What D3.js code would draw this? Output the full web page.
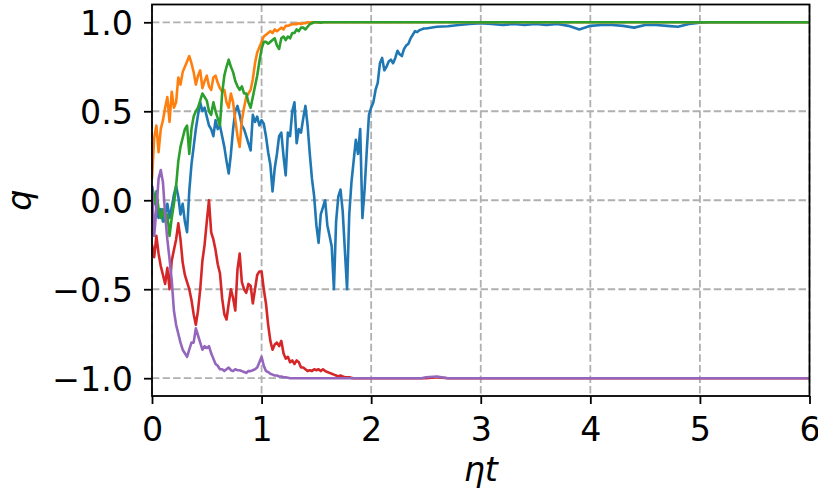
<!DOCTYPE html>
<html>
<head>
<meta charset="utf-8">
<script src="https://cdn.jsdelivr.net/npm/d3@7"></script>
<style>
  body { margin: 0; background: #fff; }
  svg { display: block; }
  text { font-family: "DejaVu Sans", sans-serif; }
</style>
</head>
<body>
<svg id="chart" width="818" height="490"></svg>
<script>
// Sample times: fine steps of 0.02 up to ηt = 2.5, then steps of 0.1 up to 6
const fineTime = d3.range(0, 126).map(i => +(i * 0.02).toFixed(2));
const coarseTime = d3.range(26, 61).map(i => +(i * 0.1).toFixed(1));
const time = fineTime.concat(coarseTime);

// q(ηt) for five runs
const qBlue = [
  0.08, 0.02, -0.04, -0.10, -0.05, -0.12, -0.08, -0.02, -0.10, -0.04,
  0.03, 0.08, 0.02, -0.08, -0.02, -0.12, -0.18, 0.05, 0.20, 0.30,
  0.40, 0.48, 0.55, 0.50, 0.52, 0.47, 0.42, 0.40, 0.36, 0.45,
  0.40, 0.42, 0.36, 0.30, 0.22, 0.15, 0.26, 0.40, 0.50, 0.53,
  0.48, 0.42, 0.40, 0.36, 0.32, 0.28, 0.48, 0.44, 0.47, 0.42,
  0.45, 0.43, 0.36, 0.27, 0.20, 0.05, 0.18, 0.26, 0.36, 0.38,
  0.25, 0.14, 0.38, 0.36, 0.50, 0.55, 0.32, 0.40, 0.38, 0.46,
  0.53, 0.42, 0.26, 0.12, 0.02, -0.14, -0.24, -0.08, -0.04, 0.00,
  -0.14, -0.20, -0.26, -0.50, -0.12, 0.02, 0.06, -0.06, -0.28, -0.50,
  -0.08, 0.10, 0.22, 0.34, 0.26, 0.40, -0.10, 0.06, 0.28, 0.48,
  0.52, 0.55, 0.62, 0.66, 0.77, 0.80, 0.73, 0.75, 0.78, 0.79,
  0.77, 0.80, 0.84, 0.82, 0.81, 0.85, 0.87, 0.88, 0.91, 0.93,
  0.95, 0.945, 0.955, 0.96, 0.965, 0.965,
  0.975, 0.978, 0.985, 0.99, 0.995,
  0.99, 0.985, 0.99, 0.985, 0.99, 0.985, 0.99, 0.98, 0.96, 0.98,
  0.985, 0.985, 0.98, 0.97, 0.985, 0.985, 0.98, 0.975, 0.99, 0.998,
  1, 1, 1, 1, 1, 1, 1, 1, 1, 1
];

const qOrange = [
  0.12, 0.35, 0.42, 0.27, 0.40, 0.45, 0.52, 0.58, 0.44, 0.61,
  0.52, 0.55, 0.69, 0.65, 0.72, 0.75, 0.78, 0.81, 0.77, 0.72,
  0.65, 0.70, 0.73, 0.63, 0.67, 0.70, 0.64, 0.62, 0.69, 0.70,
  0.66, 0.63, 0.61, 0.62, 0.55, 0.52, 0.60, 0.55, 0.45, 0.36,
  0.30, 0.45, 0.52, 0.58, 0.60, 0.62, 0.68, 0.77, 0.83, 0.86,
  0.89, 0.92, 0.93, 0.94, 0.95, 0.94, 0.96, 0.95, 0.96, 0.97,
  0.96, 0.98, 0.98, 0.985, 0.99, 0.99, 0.99, 0.995, 0.99, 0.995,
  0.995, 1, 0.998, 1, 1, 1, 0.998, 1, 1, 1,
  1, 1, 1, 1, 1, 1, 1, 1, 1, 1,
  1, 1, 1, 1, 1, 1, 1, 1, 1, 1,
  1, 1, 1, 1, 1, 1, 1, 1, 1, 1,
  1, 1, 1, 1, 1, 1, 1, 1, 1, 1,
  1, 1, 1, 1, 1, 1,
  1, 1, 1, 1, 1,
  1, 1, 1, 1, 1, 1, 1, 1, 1, 1,
  1, 1, 1, 1, 1, 1, 1, 1, 1, 1,
  1, 1, 1, 1, 1, 1, 1, 1, 1, 1
];

const qGreen = [
  0.05, -0.02, 0.05, -0.05, -0.10, -0.05, -0.12, -0.08, -0.20, -0.10,
  -0.02, 0.08, 0.22, 0.30, 0.35, 0.40, 0.42, 0.26, 0.40, 0.47,
  0.50, 0.52, 0.56, 0.60, 0.58, 0.56, 0.50, 0.48, 0.55, 0.50,
  0.46, 0.42, 0.60, 0.70, 0.75, 0.79, 0.75, 0.72, 0.67, 0.64,
  0.62, 0.64, 0.60, 0.60, 0.55, 0.52, 0.58, 0.64, 0.70, 0.78,
  0.85, 0.89, 0.89, 0.88, 0.89, 0.90, 0.91, 0.87, 0.85, 0.91,
  0.92, 0.90, 0.92, 0.91, 0.94, 0.94, 0.96, 0.95, 0.97, 0.97,
  0.96, 0.975, 0.99, 0.995, 1, 1, 1, 0.998, 1, 1,
  1, 1, 1, 1, 1, 1, 1, 1, 1, 1,
  1, 1, 1, 1, 1, 1, 1, 1, 1, 1,
  1, 1, 1, 1, 1, 1, 1, 1, 1, 1,
  1, 1, 1, 1, 1, 1, 1, 1, 1, 1,
  1, 1, 1, 1, 1, 1,
  1, 1, 1, 1, 1,
  1, 1, 1, 1, 1, 1, 1, 1, 1, 1,
  1, 1, 1, 1, 1, 1, 1, 1, 1, 1,
  1, 1, 1, 1, 1, 1, 1, 1, 1, 1
];

const qRed = [
  -0.25, -0.32, -0.20, -0.30, -0.37, -0.42, -0.47, -0.38, -0.50, -0.34,
  -0.28, -0.22, -0.13, -0.22, -0.35, -0.42, -0.46, -0.50, -0.56, -0.64,
  -0.70, -0.62, -0.50, -0.34, -0.25, -0.12, 0.00, -0.18, -0.22, -0.28,
  -0.36, -0.41, -0.55, -0.64, -0.67, -0.58, -0.50, -0.55, -0.62, -0.39,
  -0.30, -0.46, -0.50, -0.52, -0.47, -0.48, -0.58, -0.50, -0.42, -0.40,
  -0.40, -0.50, -0.58, -0.70, -0.79, -0.84, -0.81, -0.80, -0.82, -0.79,
  -0.86, -0.89, -0.88, -0.91, -0.90, -0.92, -0.90, -0.91, -0.94, -0.94,
  -0.95, -0.96, -0.955, -0.96, -0.95, -0.955, -0.95, -0.96, -0.95, -0.96,
  -0.965, -0.97, -0.975, -0.98, -0.985, -0.99, -0.985, -0.99, -0.995, -0.995,
  -0.995, -0.998, -1, -1, -1, -1, -1, -1, -1, -1,
  -1, -1, -1, -1, -1, -1, -1, -1, -1, -1,
  -1, -1, -1, -1, -1, -1, -1, -1, -1, -1,
  -1, -1, -1, -1, -1, -1,
  -0.995, -1, -1, -1, -1,
  -1, -1, -1, -1, -1, -1, -1, -1, -1, -1,
  -1, -1, -1, -1, -1, -1, -1, -1, -1, -1,
  -1, -1, -1, -1, -1, -1, -1, -1, -1, -1
];

const qPurple = [
  0.08, -0.20, -0.05, 0.12, 0.17, 0.10, -0.08, -0.22, -0.33, -0.45,
  -0.62, -0.70, -0.75, -0.80, -0.84, -0.86, -0.88, -0.84, -0.80, -0.80,
  -0.72, -0.76, -0.80, -0.84, -0.82, -0.83, -0.82, -0.86, -0.89, -0.92,
  -0.93, -0.95, -0.95, -0.96, -0.95, -0.94, -0.955, -0.96, -0.95, -0.955,
  -0.955, -0.96, -0.965, -0.97, -0.96, -0.96, -0.955, -0.95, -0.94, -0.91,
  -0.88, -0.93, -0.96, -0.965, -0.975, -0.98, -0.985, -0.985, -0.99, -0.99,
  -0.995, -0.995, -0.997, -1, -1, -1, -1, -1, -1, -1,
  -1, -1, -1, -1, -1, -1, -1, -1, -1, -1,
  -1, -1, -1, -1, -1, -1, -1, -1, -1, -1,
  -1, -1, -1, -1, -1, -1, -1, -1, -1, -1,
  -1, -1, -1, -1, -1, -1, -1, -1, -1, -1,
  -1, -1, -1, -1, -1, -1, -1, -1, -1, -1,
  -1, -1, -1, -1, -0.997, -0.995,
  -0.99, -1, -1, -1, -1,
  -1, -1, -1, -1, -1, -1, -1, -1, -1, -1,
  -1, -1, -1, -1, -1, -1, -1, -1, -1, -1,
  -1, -1, -1, -1, -1, -1, -1, -1, -1, -1
];

const seriesNames = ["run 1", "run 2", "run 3", "run 4", "run 5"];
const seriesValues = [qBlue, qOrange, qGreen, qRed, qPurple];
const seriesColors = ["#1f77b4", "#ff7f0e", "#2ca02c", "#d62728", "#9467bd"];

const xTicks = [0, 1, 2, 3, 4, 5, 6];
const yTicks = [-1, -0.5, 0, 0.5, 1];
const xLabel = "ηt";
const yLabel = "q";

// Layout
const W = 818, H = 490;
const plot = { left: 152, right: 809.5, top: 4.5, bottom: 396 };
const fontSize = 33.3;
const tickLen = 8;

const svg = d3.select("#chart");

const x = d3.scaleLinear().domain([0, 6]).range([plot.left, plot.right]);
const y = d3.scaleLinear().domain([-1.1, 1.1]).range([plot.bottom, plot.top]);

// Dashed grid
const grid = svg.append("g")
  .attr("stroke", "#b0b0b0")
  .attr("stroke-width", 1.8)
  .attr("stroke-dasharray", "7.4,3.2");
grid.selectAll("line.vx").data(xTicks).join("line")
  .attr("x1", d => x(d)).attr("x2", d => x(d))
  .attr("y1", plot.top).attr("y2", plot.bottom);
grid.selectAll("line.hy").data(yTicks).join("line")
  .attr("x1", plot.left).attr("x2", plot.right)
  .attr("y1", d => y(d)).attr("y2", d => y(d));

// Trajectories
svg.append("clipPath").attr("id", "plot-clip")
  .append("rect")
  .attr("x", plot.left).attr("y", plot.top)
  .attr("width", plot.right - plot.left)
  .attr("height", plot.bottom - plot.top);

const line = d3.line()
  .x(d => x(d[0]))
  .y(d => y(d[1]));

svg.append("g").attr("clip-path", "url(#plot-clip)")
  .selectAll("path")
  .data(seriesValues.map((vals, i) => ({
    name: seriesNames[i],
    color: seriesColors[i],
    points: vals.map((v, j) => [time[j], v])
  })))
  .join("path")
  .attr("fill", "none")
  .attr("stroke", d => d.color)
  .attr("stroke-width", 2.6)
  .attr("stroke-linejoin", "round")
  .attr("d", d => line(d.points));

// Axes
const fmtY = v => (v < 0 ? "\u2212" : "") + Math.abs(v).toFixed(1);

const xAxis = svg.append("g")
  .attr("transform", `translate(0,${plot.bottom})`)
  .call(d3.axisBottom(x).tickValues(xTicks).tickFormat(d3.format("d"))
    .tickSize(tickLen).tickSizeOuter(0));
xAxis.select(".domain").remove();
xAxis.selectAll(".tick line").attr("stroke", "#000").attr("stroke-width", 1.8);
xAxis.selectAll(".tick text")
  .attr("y", 45).attr("dy", null)
  .attr("fill", "#000")
  .style("font-size", fontSize + "px");

const yAxis = svg.append("g")
  .attr("transform", `translate(${plot.left},0)`)
  .call(d3.axisLeft(y).tickValues(yTicks).tickFormat(fmtY)
    .tickSize(tickLen).tickSizeOuter(0));
yAxis.select(".domain").remove();
yAxis.selectAll(".tick line").attr("stroke", "#000").attr("stroke-width", 1.8);
yAxis.selectAll(".tick text")
  .attr("x", -19).attr("dy", "0.36em")
  .attr("fill", "#000")
  .style("font-size", fontSize + "px");

// Frame
svg.append("rect")
  .attr("x", plot.left).attr("y", plot.top)
  .attr("width", plot.right - plot.left)
  .attr("height", plot.bottom - plot.top)
  .attr("fill", "none")
  .attr("stroke", "#000")
  .attr("stroke-width", 1.8);

// Axis labels
svg.append("text")
  .attr("x", (plot.left + plot.right) / 2)
  .attr("y", 481)
  .attr("text-anchor", "middle")
  .style("font-size", fontSize + "px")
  .style("font-style", "italic")
  .text(xLabel);

svg.append("text")
  .attr("transform", `translate(31,${(plot.top + plot.bottom) / 2}) rotate(-90)`)
  .attr("text-anchor", "middle")
  .style("font-size", fontSize + "px")
  .style("font-style", "italic")
  .text(yLabel);
</script>
</body>
</html>
